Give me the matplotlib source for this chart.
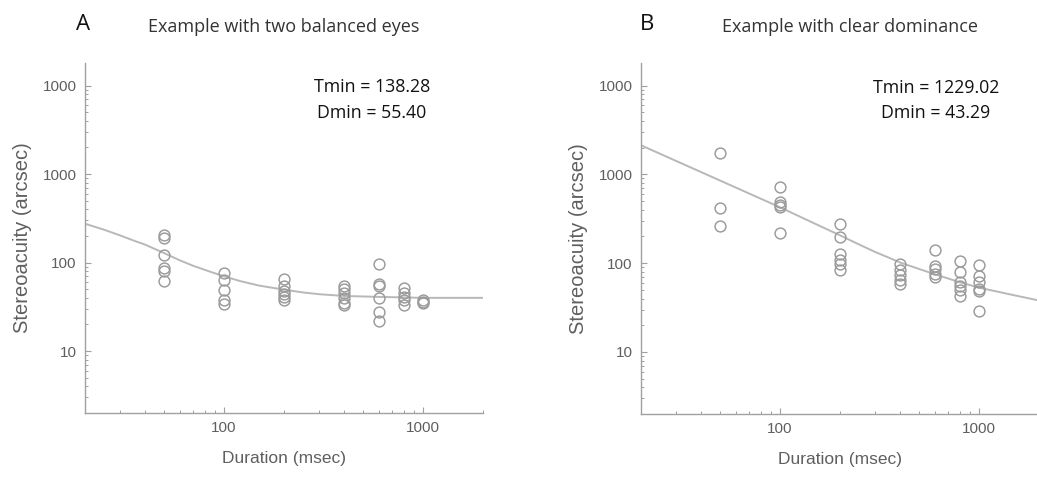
import matplotlib
matplotlib.use("Agg")
import matplotlib.pyplot as plt
from matplotlib.ticker import FixedLocator, FixedFormatter, NullFormatter, LogLocator

# ---------------- data ----------------
durations = [50, 100, 200, 400, 600, 800, 1000]

thresholds_A = [
    [205, 190, 123, 88, 81, 62],
    [77, 63, 49, 38, 34],
    [66, 55, 48, 44, 41, 38],
    [55, 50, 45, 40, 35, 33],
    [97, 58, 54, 40, 28, 22],
    [52, 45, 41, 38, 33],
    [38, 36, 35],
]
thresholds_B = [
    [1750, 420, 265],
    [730, 495, 458, 435, 221],
    [279, 198, 128, 110, 97, 83],
    [97, 84, 74, 65, 59],
    [140, 92, 85, 76, 69],
    [105, 80, 62, 56, 50, 43],
    [96, 71, 61, 51, 48, 29],
]

curveA_x = [20, 25, 30, 35, 40, 50, 60, 70, 85, 100, 120, 150, 200, 250, 300, 400, 600, 1000, 2000]
curveA_y = [275, 235, 203, 178, 160, 128, 106, 92, 79, 70, 62, 55, 49.5, 46, 44, 42, 41, 40, 40]
curveB_x = [20, 50, 100, 150, 200, 250, 300, 350, 400, 500, 600, 800, 1000, 1400, 2000]
curveB_y = [2130, 852, 426, 278, 206, 162, 134, 116, 102, 86, 75, 61, 53, 45, 38]

ytick_vals = [10, 100, 1000, 10000]
ytick_labels = ["10", "100", "1000", "1000"]
xtick_vals = [100, 1000]
xtick_labels = ["100", "1000"]

panel_letters = ["A", "B"]
panel_titles = ["Example with two balanced eyes", "Example with clear dominance"]
tmin_texts = ["Tmin = 138.28", "Tmin = 1229.02"]
dmin_texts = ["Dmin = 55.40", "Dmin = 43.29"]

# ---------------- figure ----------------
W, H = 1037, 479
fig = plt.figure(figsize=(W / 100, H / 100), dpi=100)

def px(x, y):
    return x / W, 1 - y / H

axes_px = [(85, 63, 398, 350), (641, 63, 398, 351)]
letter_pos = [(83, 24), (647, 24)]
title_pos = [(284, 27), (850, 27)]
tmin_pos = [(372, 87), (936, 88)]
dmin_pos = [(372, 113), (936, 113)]

grey_axis = "#a0a0a0"
grey_text = "#5f5f5f"
marker_col = "#9a9a9a"
curve_col = "#b8b8b8"

txt_font = ["Open Sans", "DejaVu Sans"]
axis_font = ["Liberation Sans", "DejaVu Sans"]

datasets = [(thresholds_A, curveA_x, curveA_y), (thresholds_B, curveB_x, curveB_y)]

for i, (thr, cx, cy) in enumerate(datasets):
    l, t, w, h = axes_px[i]
    ax = fig.add_axes([l / W, 1 - (t + h) / H, w / W, h / H])
    ax.set_xscale("log")
    ax.set_yscale("log")
    ax.set_xlim(20, 2000)
    ax.set_ylim(2, 18000)

    ax.plot(cx, cy, color=curve_col, lw=1.4, zorder=2)
    for d, vals in zip(durations, thr):
        ax.plot([d] * len(vals), vals, linestyle="none", marker="o",
                markersize=7.8, markerfacecolor="none",
                markeredgecolor=marker_col, markeredgewidth=1.05, zorder=3)

    for s in ["top", "right"]:
        ax.spines[s].set_visible(False)
    for s in ["left", "bottom"]:
        ax.spines[s].set_color(grey_axis)
        ax.spines[s].set_linewidth(1.0)

    ax.yaxis.set_major_locator(FixedLocator(ytick_vals))
    ax.yaxis.set_major_formatter(FixedFormatter(ytick_labels))
    ax.yaxis.set_minor_locator(LogLocator(base=10, subs=range(2, 10)))
    ax.yaxis.set_minor_formatter(NullFormatter())
    ax.xaxis.set_major_locator(FixedLocator(xtick_vals))
    ax.xaxis.set_major_formatter(FixedFormatter(xtick_labels))
    ax.xaxis.set_minor_locator(LogLocator(base=10, subs=range(2, 10)))
    ax.xaxis.set_minor_formatter(NullFormatter())

    ax.tick_params(which="major", direction="in", length=4, width=0.8,
                   color=grey_axis, labelcolor=grey_text, labelsize=11, pad=6)
    ax.tick_params(which="minor", direction="in", length=2, width=0.7,
                   color=grey_axis)
    for lab in ax.get_xticklabels() + ax.get_yticklabels():
        lab.set_family(axis_font)

    ax.set_xlabel("Duration (msec)", fontsize=12.5, color=grey_text,
                  family=axis_font, labelpad=11)
    ax.set_ylabel("Stereoacuity (arcsec)", fontsize=14.5, color=grey_text,
                  family=axis_font, labelpad=8)

    fig.text(*px(*letter_pos[i]), panel_letters[i], fontsize=16, color="#111111",
             family=txt_font, ha="center", va="center")
    fig.text(*px(*title_pos[i]), panel_titles[i], fontsize=13, color="#333333",
             family=txt_font, ha="center", va="center")
    fig.text(*px(*tmin_pos[i]), tmin_texts[i], fontsize=12.8, color="#111111",
             family=txt_font, ha="center", va="center")
    fig.text(*px(*dmin_pos[i]), dmin_texts[i], fontsize=12.8, color="#111111",
             family=txt_font, ha="center", va="center")

fig.savefig("out.png", dpi=100, facecolor="white")
